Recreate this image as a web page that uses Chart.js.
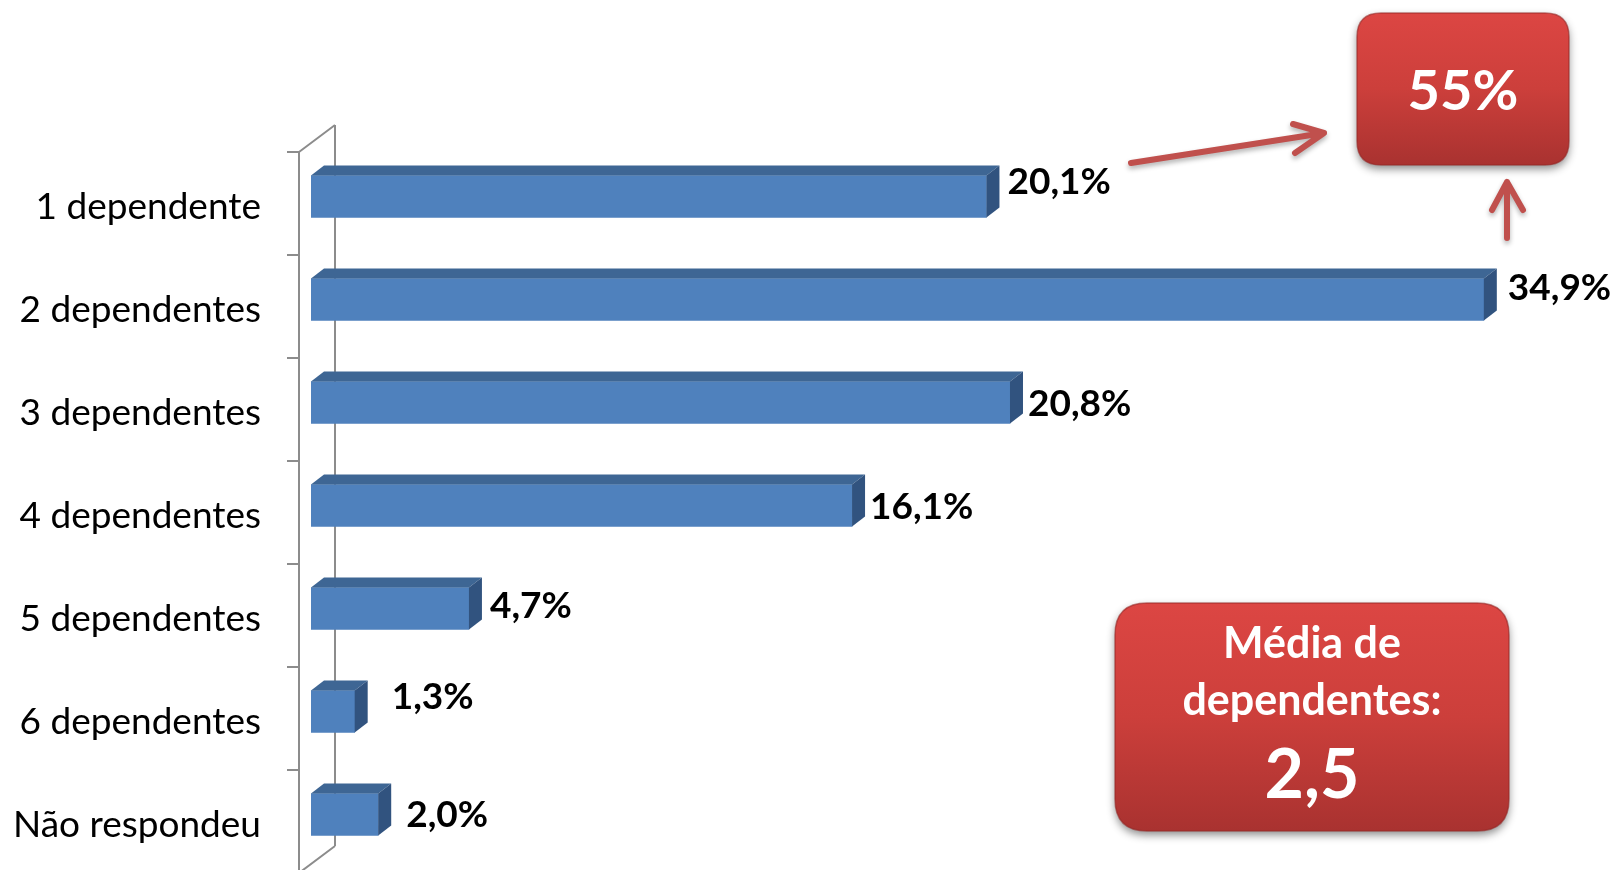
<!DOCTYPE html>
<html>
<head>
<meta charset="utf-8">
<script src="https://cdn.jsdelivr.net/npm/chart.js@4.4.1/dist/chart.umd.min.js"></script>
<style>
  html, body { margin: 0; padding: 0; background: #ffffff; }
  #wrap { width: 1616px; height: 870px; position: relative; }
</style>
</head>
<body>
<div id="wrap"><canvas id="c" width="1616" height="870"></canvas></div>
<script>
// ---- data ----
const categories = ['1 dependente', '2 dependentes', '3 dependentes', '4 dependentes', '5 dependentes', '6 dependentes', 'Não respondeu'];
const shares = [20.1, 34.9, 20.8, 16.1, 4.7, 1.3, 2.0];
const highlightText = '55%';
const averageTitle = ['Média de', 'dependentes:'];
const averageValue = '2,5';

const fmt = v => v.toFixed(1).replace('.', ',') + '%';

// ---- 3D frame + bar faces ----
const threeD = {
  id: 'threeD',
  beforeDatasetsDraw(chart, args, opts) {
    const { ctx, chartArea: a } = chart;
    const n = categories.length;
    const step = (a.bottom - a.top) / n;
    const fx = a.left - 12, fy = 7;      // front floor plane
    const bx = a.left + 24, by = -20;    // back wall plane
    ctx.save();
    ctx.strokeStyle = '#8c8c8c';
    ctx.lineWidth = 2;
    ctx.beginPath();
    ctx.moveTo(bx, a.top + by); ctx.lineTo(bx, a.bottom + by);
    ctx.moveTo(fx, a.top + fy); ctx.lineTo(fx, a.bottom + fy);
    ctx.moveTo(fx, a.top + fy); ctx.lineTo(bx, a.top + by);
    ctx.moveTo(fx, a.bottom + fy); ctx.lineTo(bx, a.bottom + by);
    for (let k = 0; k <= n; k++) {
      const y = a.top + fy + k * step;
      ctx.moveTo(fx - 12, y); ctx.lineTo(fx, y);
    }
    ctx.stroke();
    ctx.restore();
  },
  afterDatasetsDraw(chart, args, opts) {
    const { ctx } = chart;
    const meta = chart.getDatasetMeta(0);
    const dx = 13, dy = 10;
    ctx.save();
    meta.data.forEach((bar, i) => {
      const top = bar.y - bar.height / 2, bot = bar.y + bar.height / 2;
      const l = bar.base, r = bar.x;
      ctx.fillStyle = '#3e6694';
      ctx.beginPath();
      ctx.moveTo(l, top); ctx.lineTo(r, top); ctx.lineTo(r + dx, top - dy); ctx.lineTo(l + dx, top - dy);
      ctx.closePath(); ctx.fill();
      ctx.fillStyle = '#31537f';
      ctx.beginPath();
      ctx.moveTo(r, top); ctx.lineTo(r + dx, top - dy); ctx.lineTo(r + dx, bot - dy); ctx.lineTo(r, bot);
      ctx.closePath(); ctx.fill();
      const nudge = opts.nudge[i];
      ctx.fillStyle = '#000000';
      ctx.font = 'bold 37px Lato';
      ctx.textAlign = 'left';
      ctx.textBaseline = 'middle';
      ctx.fillText(fmt(shares[i]), r + nudge[0], bar.y + nudge[1]);
    });
    ctx.restore();
  }
};

// ---- callouts (boxes + arrows) ----
function roundBox(ctx, x, y, w, h, r) {
  ctx.beginPath();
  ctx.moveTo(x + r, y);
  ctx.lineTo(x + w - r, y); ctx.quadraticCurveTo(x + w, y, x + w, y + r);
  ctx.lineTo(x + w, y + h - r); ctx.quadraticCurveTo(x + w, y + h, x + w - r, y + h);
  ctx.lineTo(x + r, y + h); ctx.quadraticCurveTo(x, y + h, x, y + h - r);
  ctx.lineTo(x, y + r); ctx.quadraticCurveTo(x, y, x + r, y);
  ctx.closePath();
}
function redBox(ctx, x, y, w, h, r) {
  ctx.save();
  ctx.shadowColor = 'rgba(0,0,0,0.45)';
  ctx.shadowBlur = 9; ctx.shadowOffsetY = 4;
  const g = ctx.createLinearGradient(0, y, 0, y + h);
  g.addColorStop(0, '#dc4643'); g.addColorStop(0.5, '#cc3f3b'); g.addColorStop(1, '#a93230');
  ctx.fillStyle = g;
  roundBox(ctx, x, y, w, h, r); ctx.fill();
  ctx.restore();
  ctx.save();
  ctx.strokeStyle = 'rgba(150,40,38,0.6)'; ctx.lineWidth = 1.5;
  roundBox(ctx, x, y, w, h, r); ctx.stroke();
  ctx.restore();
}
function arrow(ctx, pts, head) {
  ctx.save();
  ctx.shadowColor = 'rgba(0,0,0,0.3)'; ctx.shadowBlur = 5; ctx.shadowOffsetY = 3;
  ctx.strokeStyle = '#c0504d'; ctx.lineWidth = 6; ctx.lineCap = 'round'; ctx.lineJoin = 'round';
  ctx.beginPath();
  ctx.moveTo(pts[0][0], pts[0][1]); ctx.lineTo(pts[1][0], pts[1][1]);
  ctx.moveTo(head[0][0], head[0][1]); ctx.lineTo(pts[1][0], pts[1][1]); ctx.lineTo(head[1][0], head[1][1]);
  ctx.stroke();
  ctx.restore();
}
const callouts = {
  id: 'callouts',
  afterDraw(chart) {
    const { ctx } = chart;
    arrow(ctx, [[1131, 163], [1324, 133]], [[1293, 124], [1295, 153]]);
    arrow(ctx, [[1507, 238], [1507, 182]], [[1492, 210], [1523, 210]]);
    redBox(ctx, 1357, 13, 212, 152, 24);
    redBox(ctx, 1115, 603, 394, 228, 32);
    ctx.save();
    ctx.fillStyle = '#ffffff';
    ctx.textAlign = 'center';
    ctx.textBaseline = 'alphabetic';
    ctx.font = 'bold 56px Lato';
    ctx.fillText(highlightText, 1463, 110);
    ctx.font = 'bold 43px Lato';
    ctx.fillText(averageTitle[0], 1312, 658);
    ctx.fillText(averageTitle[1], 1312, 715);
    ctx.font = 'bold 68px Lato';
    ctx.fillText(averageValue, 1312, 798);
    ctx.restore();
  }
};

new Chart(document.getElementById('c'), {
  type: 'bar',
  data: {
    labels: categories,
    datasets: [{
      data: shares,
      backgroundColor: '#4f81bd',
      borderWidth: 0,
      barThickness: 42
    }]
  },
  options: {
    indexAxis: 'y',
    responsive: false,
    animation: false,
    layout: { padding: { left: 0, right: 28, top: 145, bottom: 4 } },
    plugins: {
      legend: { display: false },
      tooltip: { enabled: false },
      threeD: { nudge: [[21, -14], [24, -11], [18, 2], [18, 1.5], [21, -2.5], [37, -14.5], [28, 1]] }
    },
    scales: {
      x: { display: false, min: 0, max: 38 },
      y: {
        grid: { display: false, drawTicks: false },
        border: { display: false },
        ticks: { color: '#000000', font: { family: 'Lato', size: 37 }, padding: 50, labelOffset: 11 },
        afterFit(scale) { scale.width = 311; scale.paddingTop = 0; scale.paddingBottom = 0; }
      }
    }
  },
  plugins: [threeD, callouts]
});
</script>
</body>
</html>
